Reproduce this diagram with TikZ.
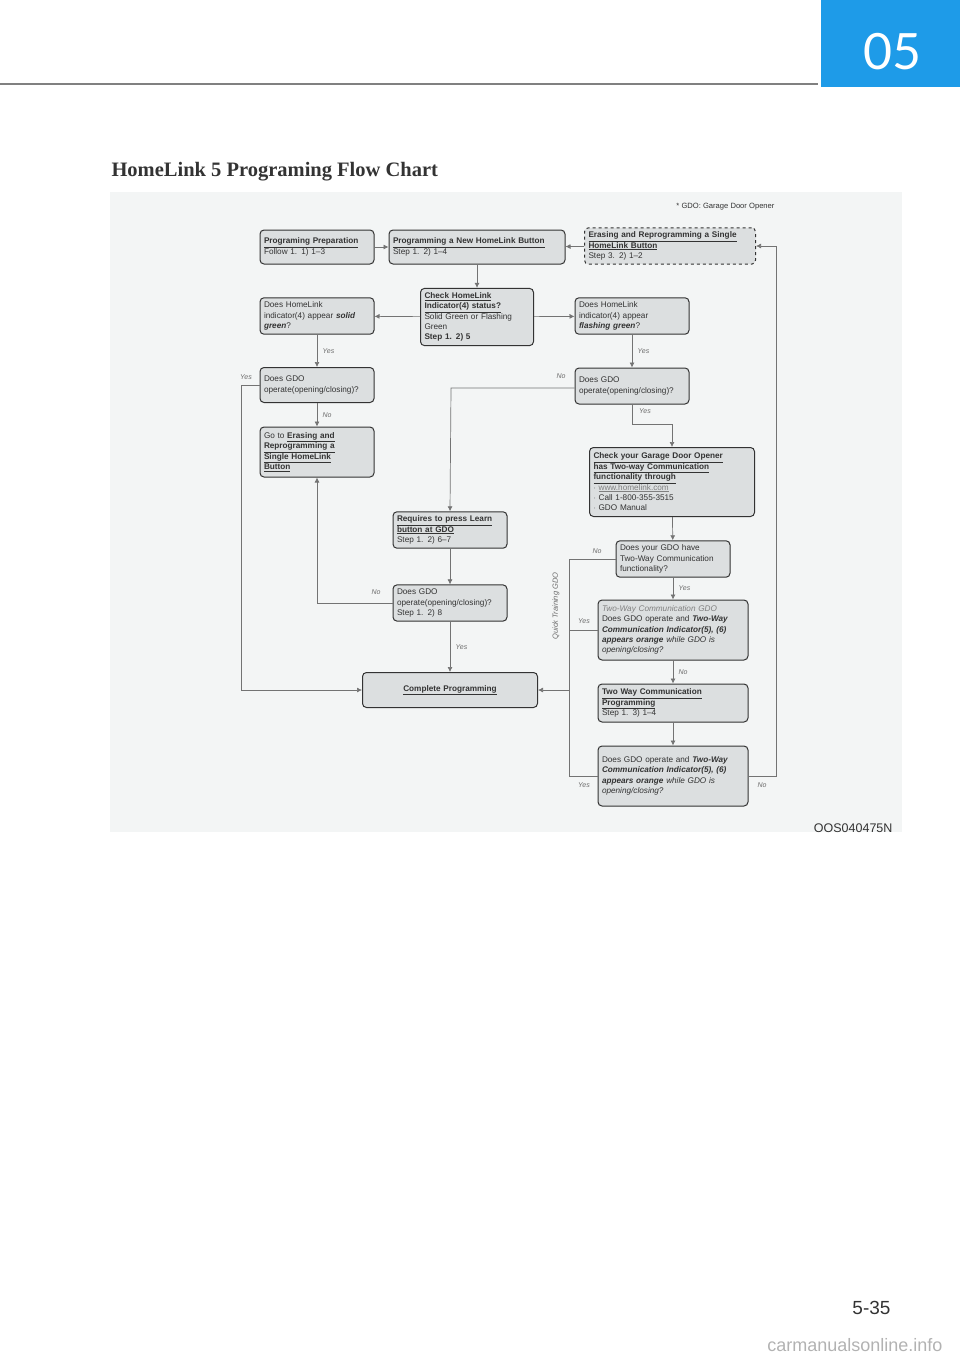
\documentclass[tikz,border=0pt]{standalone}
\usepackage{fontspec}
\setmainfont{Liberation Sans}
\newfontfamily\titlefont{Liberation Serif}
\newfontfamily\numfont{Lato}
\usetikzlibrary{arrows.meta}
\definecolor{hdblue}{HTML}{1E9BE8}
\definecolor{panel}{HTML}{F3F5F5}
\definecolor{boxfill}{HTML}{DCDFE0}
\definecolor{ink}{HTML}{333333}
\newcommand{\ul}[1]{\underline{\textbf{#1}}}
\newcommand{\hl}[1]{\textbf{\textit{#1}}}
\begin{document}
\begin{tikzpicture}[x=1pt,y=-1pt,
font=\fontsize{8.2}{10.4}\selectfont,
flowbox/.style={rectangle, rounded corners=4pt, draw=ink, fill=boxfill, line width=1pt, text=ink, align=left, inner sep=4pt, anchor=center},
dashbox/.style={flowbox, dashed},
flow/.style={draw=gray!90!black, line width=0.7pt, -{Latex[length=5pt,width=5pt]}},
line/.style={draw=gray!90!black, line width=0.7pt},
lbl/.style={text=gray!85!black, font=\fontsize{7}{8}\selectfont\itshape},
]
\useasboundingbox (0,0) rectangle (960,1362);
% header
\draw[gray, line width=1.5pt] (0,84) -- (818,84);
\fill[hdblue] (821,0) rectangle (960,87);
\node (chap) [text=white, font=\numfont\fontsize{50}{50}\selectfont] at (892,52) {05};
\node (title) [anchor=west, font=\titlefont\bfseries\fontsize{20.5}{24}\selectfont, text=ink] at (108,172) {HomeLink 5 Programing Flow Chart};
\fill[panel] (110,192) rectangle (902,832);
\node (note) [anchor=east, text=ink, font=\fontsize{7.6}{9}\selectfont] at (778,207) {* GDO: Garage Door Opener};
% boxes
\node (prep) [flowbox, text width=106, minimum height=34] at (317,247) {\ul{Programing Preparation}\\Follow 1. 1) 1--3};
\node (newbtn) [flowbox, text width=168, minimum height=34] at (477,247) {\ul{Programming a New HomeLink Button}\\Step 1. 2) 1--4};
\node (erase) [dashbox, text width=163, minimum height=35] at (670,246) {\ul{Erasing and Reprogramming a Single}\\\ul{HomeLink Button}\\Step 3. 2) 1--2};
\node (check) [flowbox, text width=105, minimum height=56] at (477,317) {\ul{Check HomeLink}\\\ul{Indicator(4) status?}\\Solid Green or Flashing\\Green\\\textbf{Step 1. 2) 5}};
\node (solid) [flowbox, text width=106, minimum height=35] at (317,316) {Does HomeLink\\indicator(4) appear \hl{solid}\\\hl{green}?};
\node (flash) [flowbox, text width=106, minimum height=35] at (632,316) {Does HomeLink\\indicator(4) appear\\\hl{flashing green}?};
\node (gdoL) [flowbox, text width=106, minimum height=35] at (317,385) {Does GDO\\operate(opening/closing)?};
\node (gdoR) [flowbox, text width=106, minimum height=36] at (632,386) {Does GDO\\operate(opening/closing)?};
\node (goto) [flowbox, text width=106, minimum height=50] at (317,452) {Go to \ul{Erasing and}\\\ul{Reprogramming a}\\\ul{Single HomeLink}\\\ul{Button}};
\node (owner) [flowbox, text width=157, minimum height=69] at (672,482) {\ul{Check your Garage Door Opener}\\\ul{has Two-way Communication}\\\ul{functionality through}\\$\cdot$ \textcolor{gray}{\underline{www.homelink.com}}\\$\cdot$ Call 1-800-355-3515\\$\cdot$ GDO Manual};
\node (learn) [flowbox, text width=106, minimum height=35] at (450,530) {\ul{Requires to press Learn}\\\ul{button at GDO}\\Step 1. 2) 6--7};
\node (twq) [flowbox, text width=106, minimum height=36] at (673,559) {Does your GDO have\\Two-Way Communication\\functionality?};
\node (step8) [flowbox, text width=106, minimum height=35] at (450,603) {Does GDO\\operate(opening/closing)?\\Step 1. 2) 8};
\node (twgdo) [flowbox, text width=142, minimum height=60] at (673,630) {\textit{\textcolor{gray}{Two-Way Communication GDO}}\\Does GDO operate and \hl{Two-Way}\\\hl{Communication Indicator(5), (6)}\\\hl{appears orange} \textit{while GDO is}\\\textit{opening/closing?}};
\node (done) [flowbox, text width=167, minimum height=35, align=center] at (450,690) {\ul{Complete Programming}};
\node (twprog) [flowbox, text width=142, minimum height=38] at (673,703) {\ul{Two Way Communication}\\\ul{Programming}\\Step 1. 3) 1--4};
\node (final) [flowbox, text width=142, minimum height=60] at (673,776) {Does GDO operate and \hl{Two-Way}\\\hl{Communication Indicator(5), (6)}\\\hl{appears orange} \textit{while GDO is}\\\textit{opening/closing?}};
% corner points
\coordinate (lyes) at (241,385);
\coordinate (lyes2) at (241,690);
\coordinate (rno) at (451,388);
\coordinate (ryes1) at (632,424);
\coordinate (ryes2) at (672,424);
\coordinate (lno) at (317,603);
\coordinate (qt1) at (569,559);
\coordinate (qt2) at (569,776);
\coordinate (qtj) at (569,690);
\coordinate (qty) at (569,630);
\coordinate (fno1) at (776,776);
\coordinate (fno2) at (776,246);
% connectors
\draw[flow] (prep) -- (newbtn);
\draw[flow] (erase) -- (newbtn);
\draw[flow] (newbtn) -- (check);
\draw[flow] (check) -- (solid);
\draw[flow] (check) -- (flash);
\draw[flow] (solid) -- node[lbl, right, xshift=2pt] {Yes} (gdoL);
\draw[flow] (flash) -- node[lbl, right, xshift=2pt] {Yes} (gdoR);
\draw[flow] (gdoL) -- node[lbl, right, xshift=2pt] {No} (goto);
\draw[flow] (gdoL.west) -- (lyes) -- (lyes2) -- (done.west);
\node (lyeslbl) [lbl] at (246,377) {Yes};
\draw[flow] (gdoR.west |- rno) -- (rno) -- (learn.north);
\node (rnolbl) [lbl] at (561,376) {No};
\draw[flow] (gdoR.south) -- (ryes1) -- (ryes2) -- (owner.north);
\node (ryeslbl) [lbl] at (645,411) {Yes};
\draw[flow] (owner) -- (twq);
\draw[flow] (learn) -- (step8);
\draw[flow] (step8) -- node[lbl, right, xshift=2pt] {Yes} (done);
\draw[flow] (step8.west) -- (lno) -- (goto.south);
\node (lnolbl) [lbl] at (376,592) {No};
\draw[line] (twq.west) -- (qt1) -- (qt2) -- (final.west);
\draw[line] (qty) -- (twgdo.west);
\draw[flow] (qtj) -- (done.east);
\node (qtnolbl) [lbl] at (597,551) {No};
\node (qtyes1) [lbl] at (584,621) {Yes};
\node (qtyes2) [lbl] at (584,785) {Yes};
\node (quick) [lbl, rotate=90, font=\fontsize{7.5}{8}\selectfont\itshape] at (556,606) {Quick Training GDO};
\draw[flow] (twq) -- node[lbl, right, xshift=2pt] {Yes} (twgdo);
\draw[flow] (twgdo) -- node[lbl, right, xshift=2pt] {No} (twprog);
\draw[flow] (twprog) -- (final);
\draw[flow] (final.east) -- (fno1) -- (fno2) -- (erase.east);
\node (fnolbl) [lbl] at (762,785) {No};
% footer
\node (code) [anchor=east, text=ink, font=\fontsize{12.5}{14}\selectfont] at (896,828) {OOS040475N};
\node (page) [anchor=east, text=ink, font=\fontsize{19}{22}\selectfont] at (894,1308) {5-35};
\node (wm) [anchor=east, text=gray!60, font=\fontsize{18}{20}\selectfont] at (946,1345) {carmanualsonline.info};
\end{tikzpicture}
\end{document}
